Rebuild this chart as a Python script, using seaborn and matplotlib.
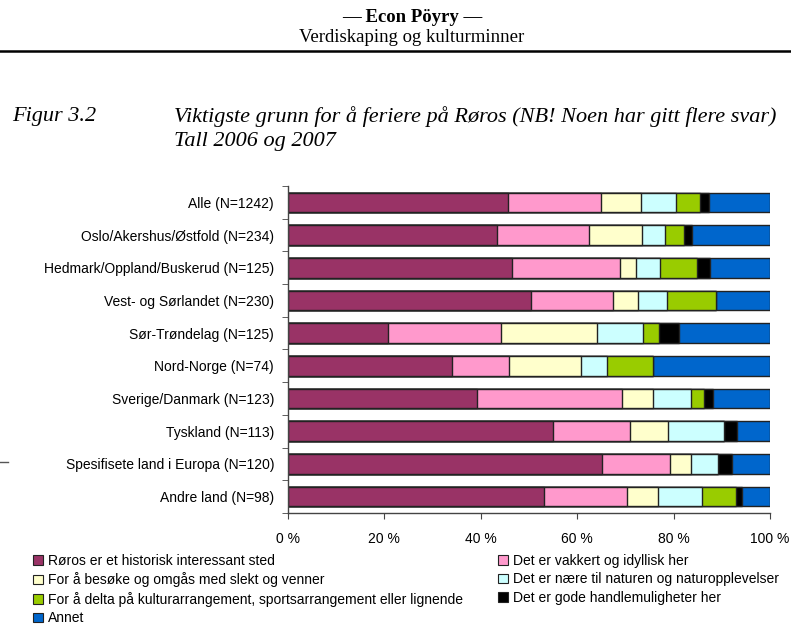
import matplotlib
matplotlib.use("Agg")
import matplotlib.pyplot as plt
from matplotlib.patches import Patch
from matplotlib.lines import Line2D
import numpy as np
import pandas as pd
import seaborn as sns

regions = [
    "Alle (N=1242)",
    "Oslo/Akershus/Østfold (N=234)",
    "Hedmark/Oppland/Buskerud (N=125)",
    "Vest- og Sørlandet (N=230)",
    "Sør-Trøndelag (N=125)",
    "Nord-Norge (N=74)",
    "Sverige/Danmark (N=123)",
    "Tyskland (N=113)",
    "Spesifisete land i Europa (N=120)",
    "Andre land (N=98)",
]

categories = [
    "Røros er et historisk interessant sted",
    "Det er vakkert og idyllisk her",
    "For å besøke og omgås med slekt og venner",
    "Det er nære til naturen og naturopplevelser",
    "For å delta på kulturarrangement, sportsarrangement eller lignende",
    "Det er gode handlemuligheter her",
    "Annet",
]

# share in percent, one list per category (same order as regions)
historisk = [45.7, 43.4, 46.5, 50.5, 20.8, 34.0, 39.2, 55.0, 65.2, 53.2]
vakkert = [19.2, 19.0, 22.3, 16.9, 23.3, 11.9, 30.0, 15.9, 14.1, 17.2]
slekt = [8.4, 11.1, 3.3, 5.3, 19.9, 14.9, 6.5, 7.9, 4.2, 6.3]
natur = [7.1, 4.7, 5.0, 6.0, 9.7, 5.4, 8.0, 11.7, 5.7, 9.1]
kultur = [5.0, 4.0, 7.7, 10.0, 3.2, 9.5, 2.5, 0.0, 0.0, 7.1]
handel = [2.0, 1.7, 2.7, 0.0, 4.2, 0.0, 1.9, 2.6, 2.9, 1.3]
annet = [12.6, 16.1, 12.5, 11.3, 18.9, 24.3, 11.9, 6.9, 7.9, 5.8]

colors = ["#993366", "#FF99CC", "#FFFFCC", "#CCFFFF", "#99CC00", "#000000", "#0066CC"]

values = np.array([historisk, vakkert, slekt, natur, kultur, handel, annet])
cum = np.cumsum(values, axis=0)
cum = cum / cum[-1] * 100

plt.rcParams["font.family"] = ["Liberation Sans", "DejaVu Sans"]

fig = plt.figure(figsize=(7.91, 6.26), dpi=100)
ax = fig.add_axes([0.3641, 0.1805, 0.6094, 0.5224])

# stacked bars: draw cumulative totals from the outside in
for i in range(len(categories) - 1, -1, -1):
    df = pd.DataFrame({"region": regions, "value": cum[i]})
    sns.barplot(data=df, x="value", y="region", orient="h", color=colors[i],
                width=0.6, edgecolor="#222222", linewidth=1.0, saturation=1,
                ax=ax)

ax.set_xlim(0, 100)
ax.set_ylim(len(regions) - 0.5, -0.5)
ax.set_xticks([0, 20, 40, 60, 80, 100])
ax.set_xticklabels([f"{v} %" for v in [0, 20, 40, 60, 80, 100]], fontsize=10)
ax.set_yticks(range(len(regions)))
ax.set_yticklabels(regions, fontsize=10)
ax.tick_params(axis="y", length=0, pad=10)
ax.tick_params(axis="x", length=4, color="#444444", pad=10)
ax.set_yticks(np.arange(-0.5, len(regions), 1), minor=True)
ax.tick_params(axis="y", which="minor", length=4, color="#444444")
ax.set_xlabel("")
ax.set_ylabel("")
for s in ["top", "right"]:
    ax.spines[s].set_visible(False)
for s in ["left", "bottom"]:
    ax.spines[s].set_color("#444444")
    ax.spines[s].set_linewidth(1)

# header
serif = ["Liberation Serif", "DejaVu Serif"]
fig.text(0.521, 1 - 17 / 626, "— Econ Pöyry —", ha="center", va="center",
         family=serif, fontweight="bold", fontsize=13.5)
fig.text(0.521, 1 - 37 / 626, "Verdiskaping og kulturminner", ha="center",
         va="center", family=serif, fontsize=13.5)
fig.add_artist(Line2D([0, 1], [1 - 51 / 626, 1 - 51 / 626], color="black",
                      lw=1.8, transform=fig.transFigure))
fig.text(12 / 791, 1 - 117 / 626, "Figur 3.2", ha="left", va="center",
         family=serif, style="italic", fontsize=16)
fig.text(174 / 791, 1 - 117 / 626,
         "Viktigste grunn for å feriere på Røros (NB! Noen har gitt flere svar)",
         ha="left", va="center", family=serif, style="italic", fontsize=16)
fig.text(174 / 791, 1 - 142 / 626, "Tall 2006 og 2007", ha="left",
         va="center", family=serif, style="italic", fontsize=16)
fig.add_artist(Line2D([0, 8 / 791], [1 - 462 / 626, 1 - 462 / 626],
                      color="#555555", lw=1, transform=fig.transFigure))

# legend in two columns
handles = [Patch(facecolor=c, edgecolor="#222222", linewidth=0.8) for c in colors]
left_idx = [0, 2, 4, 6]
right_idx = [1, 3, 5]
leg_kw = dict(frameon=False, fontsize=10, handlelength=0.7, handleheight=0.7,
              handletextpad=0.4, labelspacing=0.32, borderaxespad=0,
              borderpad=0)
fig.legend([handles[i] for i in left_idx],
           [categories[i] for i in left_idx], loc="upper left",
           bbox_to_anchor=(33 / 791, 1 - 554 / 626), **leg_kw)
fig.legend([handles[i] for i in right_idx],
           [categories[i] for i in right_idx], loc="upper left",
           bbox_to_anchor=(498 / 791, 1 - 554 / 626), **leg_kw)

fig.savefig("out.png", dpi=100)
